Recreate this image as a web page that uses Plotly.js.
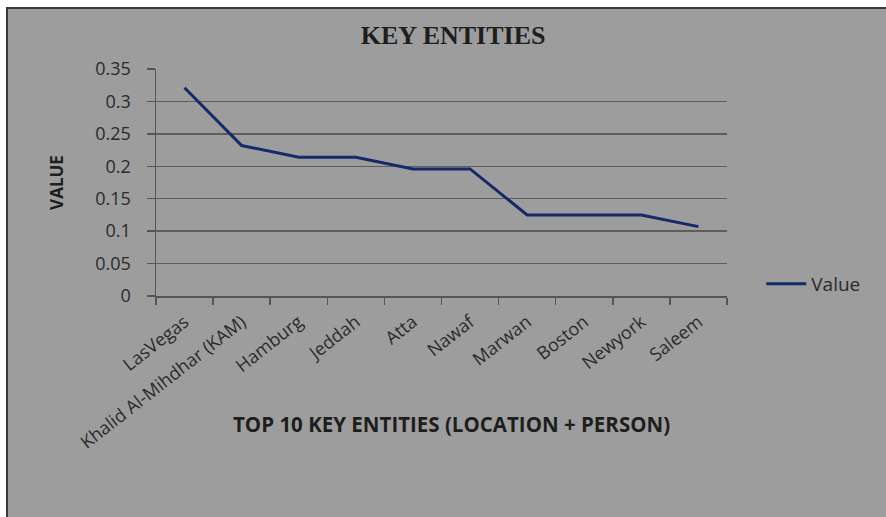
<!DOCTYPE html>
<html>
<head>
<meta charset="utf-8">
<script src="https://cdn.plot.ly/plotly-3.0.1.min.js"></script>
<style>
html,body{margin:0;padding:0;background:#ffffff;width:886px;height:517px;overflow:hidden;}
#frame{position:absolute;left:6px;top:7px;width:880px;height:510px;border-left:2px solid #3a3a3a;border-top:2px solid #3a3a3a;background:#9d9d9d;}
#chart{width:878px;height:508px;}
</style>
</head>
<body>
<div id="frame"><div id="chart"></div></div>
<script>
const categories = ["LasVegas","Khalid Al-Mihdhar (KAM)","Hamburg","Jeddah","Atta","Nawaf","Marwan","Boston","Newyork","Saleem"];
const values = [0.321, 0.232, 0.214, 0.214, 0.196, 0.196, 0.125, 0.125, 0.125, 0.107];
const yTicks = [0, 0.05, 0.1, 0.15, 0.2, 0.25, 0.3, 0.35];
const yTickText = ["0", "0.05", "0.1", "0.15", "0.2", "0.25", "0.3", "0.35"];
const xTitle = "TOP 10 KEY ENTITIES (LOCATION + PERSON)";

const trace = {
  x: categories,
  y: values,
  type: "scatter",
  mode: "lines",
  name: "Value",
  line: {color: "#162a6b", width: 3}
};

const tickFont = {family: "Open Sans, sans-serif", size: 18, color: "#2b2b2b"};

const layout = {
  width: 878,
  height: 508,
  paper_bgcolor: "#9d9d9d",
  plot_bgcolor: "#9d9d9d",
  margin: {l: 148, t: 60, r: 159, b: 221, pad: 0},
  title: {
    text: "<b>KEY ENTITIES</b>",
    font: {family: "Liberation Serif, Times New Roman, serif", size: 26, color: "#1e1e1e"},
    xref: "container", x: 0.507, xanchor: "center",
    yref: "container", y: 0.949, yanchor: "middle"
  },
  xaxis: {
    type: "category",
    categoryorder: "array",
    categoryarray: categories,
    range: [-0.5, 9.5],
    showline: true, linecolor: "#555555", linewidth: 1.5,
    ticks: "outside", tickson: "boundaries", ticklen: 7, tickcolor: "#555555", tickwidth: 1.5,
    showgrid: false,
    tickangle: -38,
    ticklabelstandoff: 7,
    tickfont: tickFont
  },
  yaxis: {
    range: [0, 0.35],
    tickvals: yTicks,
    ticktext: yTickText,
    showline: true, linecolor: "#555555", linewidth: 1.5,
    ticks: "outside", ticklen: 8, tickcolor: "#555555", tickwidth: 1.5,
    ticklabelstandoff: 12,
    showgrid: true, gridcolor: "#5e5e5e", gridwidth: 1.5,
    zeroline: false,
    tickfont: tickFont,
    title: {
      text: "<b>VALUE</b>",
      font: {family: "Open Sans, sans-serif", size: 17, color: "#1e1e1e"},
      standoff: 27
    }
  },
  annotations: [{
    text: "<b>" + xTitle + "</b>",
    xref: "paper", yref: "paper",
    x: 0.517, y: -0.564, xanchor: "center", yanchor: "middle",
    showarrow: false,
    font: {family: "Open Sans, sans-serif", size: 20.5, color: "#1e1e1e"}
  }],
  showlegend: true,
  legend: {
    x: 1.06, xanchor: "left",
    y: 0.053, yanchor: "middle",
    bgcolor: "rgba(0,0,0,0)",
    font: {family: "Open Sans, sans-serif", size: 19, color: "#2b2b2b"},
    itemwidth: 40
  }
};

Plotly.newPlot("chart", [trace], layout, {displayModeBar: false, staticPlot: true});
</script>
</body>
</html>
